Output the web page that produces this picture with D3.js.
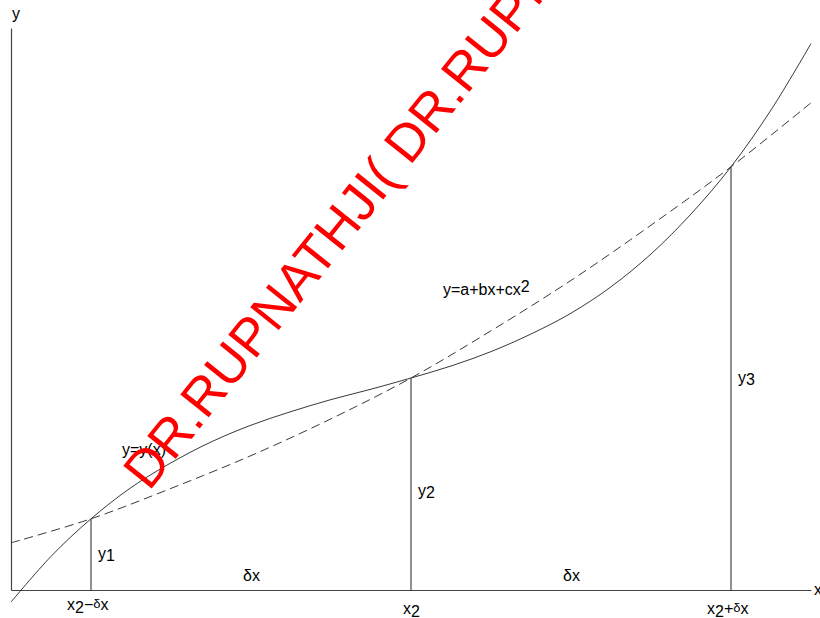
<!DOCTYPE html>
<html>
<head>
<meta charset="utf-8">
<script src="https://cdn.jsdelivr.net/npm/d3@7"></script>
<style>
  html, body { margin: 0; padding: 0; background: #fff; overflow: hidden; }
  svg { display: block; }
  text { font-family: "Liberation Sans", Arial, Helvetica, sans-serif; }
</style>
</head>
<body>
<svg id="chart" width="820" height="618"></svg>
<script>
// Solid curve y = y(x), sampled along x
const curveX = [0, 0.5, 1, 1.5, 2, 2.5, 3, 3.5, 4, 4.5, 5, 5.5, 6, 6.5, 7, 7.5, 8, 8.5, 9, 9.5, 10];
const curveY = [-0.15, 0.42, 0.89, 1.28, 1.59, 1.85, 2.06, 2.23, 2.38, 2.51, 2.65, 2.80, 2.98, 3.20, 3.46, 3.79, 4.20, 4.70, 5.29, 6.00, 6.83];

// Dashed fitted parabola y = a + bx + cx^2
const fitX = [0, 1, 2, 3, 4, 5, 6, 7, 8, 9, 10];
const fitY = [0.59, 0.89, 1.27, 1.68, 2.14, 2.65, 3.24, 3.87, 4.56, 5.29, 6.09];

// The three sample points x2-δx, x2, x2+δx
const sampleX = [1, 5, 9];
const sampleY = [0.89, 2.65, 5.29];
const sampleXLabels = [["x", "2", "\u2212", "\u03b4", "x"], ["x", "2"], ["x", "2", "+", "\u03b4", "x"]];
const sampleYLabels = [["y", "1"], ["y", "2"], ["y", "3"]];

const watermark = "DR.RUPNATHJI( DR.RUPNATHJI( DR.RUPNATHJI(";

const svg = d3.select("#chart");
const x = d3.scaleLinear().domain([0, 10]).range([11, 811]);
const y = d3.scaleLinear().domain([0, 7]).range([590, 30]);

const ink = "#222";
const fs = 16;

// Axes (plain lines, no ticks)
svg.append("g")
  .attr("transform", `translate(0,${y(0)})`)
  .call(d3.axisBottom(x).tickValues([]).tickSizeOuter(0))
  .call(g => g.select(".domain").attr("stroke", "#444").attr("stroke-width", 1.2));
svg.append("g")
  .attr("transform", `translate(${x(0)},0)`)
  .call(d3.axisLeft(d3.scaleLinear().domain([0, 7]).range([590, 28])).tickValues([]).tickSizeOuter(0))
  .call(g => g.select(".domain").attr("stroke", "#444").attr("stroke-width", 1.2));

svg.append("text").attr("x", x(0) + 1).attr("y", 19).attr("font-size", fs).text("y");
svg.append("text").attr("x", x(10) + 3).attr("y", 595).attr("font-size", fs).text("x");

// Ordinates at the sample points
svg.selectAll("line.ord").data(sampleX).join("line")
  .attr("class", "ord")
  .attr("x1", d => x(d)).attr("x2", d => x(d))
  .attr("y1", (d, i) => y(sampleY[i])).attr("y2", y(0))
  .attr("stroke", ink).attr("stroke-width", 1);

// Curves
const line = d3.line().x(d => x(d[0])).y(d => y(d[1])).curve(d3.curveCatmullRom.alpha(0.5));
svg.append("path")
  .datum(curveX.map((v, i) => [v, curveY[i]]))
  .attr("d", line)
  .attr("fill", "none").attr("stroke", ink).attr("stroke-width", 0.9);
svg.append("path")
  .datum(fitX.map((v, i) => [v, fitY[i]]))
  .attr("d", line)
  .attr("fill", "none").attr("stroke", ink).attr("stroke-width", 0.9)
  .attr("stroke-dasharray", "9,5");

// Helper for labels with sub/superscripts
function richText(px, py, parts) {
  const t = svg.append("text").attr("x", px).attr("y", py).attr("font-size", fs).attr("fill", "#000");
  parts.forEach(p => {
    const ts = t.append("tspan").text(p.s);
    if (p.dy) ts.attr("dy", p.dy);
    if (p.size) ts.attr("font-size", p.size);
  });
  return t;
}

// x-axis labels under the sample points
const xLabelOffsets = [-24, -8, -24];
const xLabelBase = [610, 614, 614];
sampleX.forEach((sx, i) => {
  const parts = sampleXLabels[i];
  const spec = [{ s: parts[0] }, { s: parts[1], dy: 3 }];
  if (parts.length > 2) {
    spec.push({ s: parts[2], dy: -3 });
    spec.push({ s: parts[3], dy: -2, size: 13 });
    spec.push({ s: parts[4], dy: 2 });
  }
  richText(x(sx) + xLabelOffsets[i], xLabelBase[i], spec);
});

// y labels beside the ordinates
const yLabelBase = [559, 496, 383];
sampleX.forEach((sx, i) => {
  const parts = sampleYLabels[i];
  richText(x(sx) + 7, yLabelBase[i], [{ s: parts[0] }, { s: parts[1], dy: 2 }]);
});

// δx spacing labels
[[sampleX[0], sampleX[1]], [sampleX[1], sampleX[2]]].forEach(([a, b]) => {
  richText((x(a) + x(b)) / 2 - 8, 581, [{ s: "\u03b4" }, { s: "x" }]);
});

// Curve labels
richText(443, 295, [{ s: "y=a+bx+cx" }, { s: "2", dy: -3 }]);
richText(122, 455, [{ s: "y=y(x)" }]);

// Watermark
svg.append("text")
  .attr("transform", "translate(149,492) rotate(-51.3)")
  .attr("font-size", 53)
  .attr("fill", "#ff0000")
  .text(watermark);
</script>
</body>
</html>
